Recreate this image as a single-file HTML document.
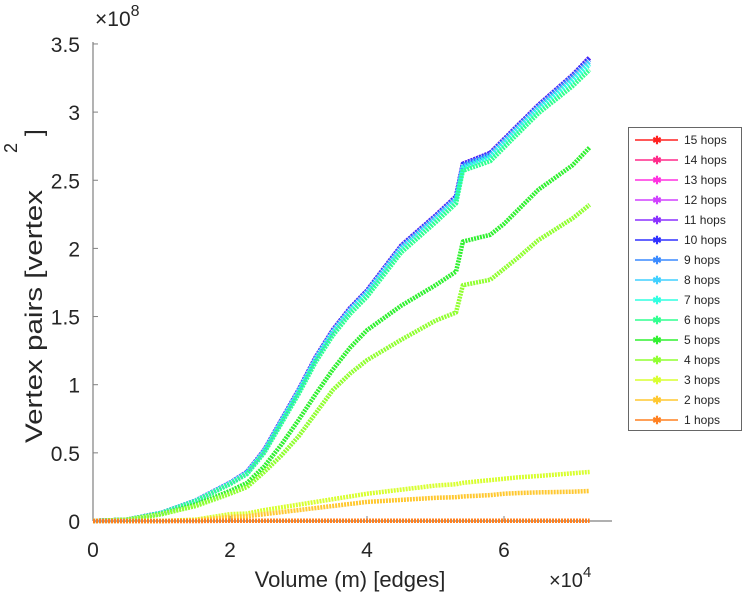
<!DOCTYPE html>
<html><head><meta charset="utf-8"><style>
html,body{margin:0;padding:0;background:#fff;}
svg text{font-family:"Liberation Sans",sans-serif;fill:#262626;}
</style></head><body>
<svg id="chart" width="749" height="600" viewBox="0 0 749 600" xmlns="http://www.w3.org/2000/svg">
<g id="axes"></g>
<g id="series"></g>
<g id="legend"></g>
</svg>
<script>
const xs = [0,0.5,1,1.5,2,2.25,2.5,2.75,3,3.25,3.5,3.75,4,4.5,5,5.3,5.4,5.8,6,6.2,6.5,7,7.25];
const top10 = [0,0.01,0.06,0.15,0.28,0.36,0.52,0.74,0.96,1.2,1.40,1.56,1.69,2.02,2.24,2.38,2.62,2.70,2.80,2.90,3.05,3.27,3.40];
const hop9 = [0,0.01,0.06,0.15,0.28,0.358,0.517,0.736,0.955,1.194,1.393,1.552,1.682,2.01,2.23,2.37,2.61,2.69,2.79,2.89,3.04,3.26,3.38];
const hop8 = [0,0.01,0.06,0.15,0.277,0.355,0.513,0.731,0.95,1.188,1.385,1.544,1.673,2.0,2.22,2.36,2.60,2.68,2.78,2.88,3.03,3.24,3.37];
const hop7 = [0,0.01,0.059,0.148,0.275,0.352,0.51,0.727,0.945,1.182,1.378,1.536,1.664,1.99,2.21,2.35,2.59,2.67,2.77,2.87,3.02,3.23,3.35];
const hop6 = [0,0.01,0.058,0.146,0.27,0.345,0.5,0.715,0.93,1.165,1.36,1.517,1.645,1.97,2.19,2.33,2.57,2.64,2.74,2.84,2.99,3.19,3.31];
const hop5 = [0,0.01,0.05,0.12,0.22,0.28,0.40,0.56,0.74,0.93,1.11,1.27,1.40,1.58,1.73,1.83,2.05,2.10,2.18,2.28,2.43,2.61,2.74];
const hop4 = [0,0.01,0.05,0.11,0.2,0.25,0.36,0.48,0.62,0.79,0.96,1.08,1.18,1.33,1.47,1.53,1.73,1.77,1.85,1.93,2.06,2.22,2.32];
const hop3 = [0,0,0,0.01,0.05,0.055,0.08,0.1,0.12,0.14,0.16,0.18,0.2,0.23,0.26,0.27,0.28,0.30,0.31,0.32,0.33,0.35,0.36];
const hop2 = [0,0,0,0.005,0.03,0.035,0.05,0.065,0.08,0.095,0.11,0.125,0.14,0.155,0.17,0.175,0.18,0.19,0.2,0.205,0.21,0.215,0.22];
const hop1 = [0,0,0,0,0.002,0.002,0.002,0.002,0.002,0.002,0.002,0.002,0.002,0.002,0.002,0.002,0.002,0.002,0.002,0.002,0.002,0.002,0.002];
const xTicks = [0,2,4,6];
const yTicks = [0,0.5,1,1.5,2,2.5,3,3.5];
const labels = ["15 hops","14 hops","13 hops","12 hops","11 hops","10 hops","9 hops","8 hops","7 hops","6 hops","5 hops","4 hops","3 hops","2 hops","1 hops"];

const NS="http://www.w3.org/2000/svg";
const X0=93,XR=612,Y0=521,YT=42;
const sx=v=>93+v*68.5;
const sy=v=>521-v*136.3;
function mk(tag,parent,attrs){const e=document.createElementNS(NS,tag);for(const k in attrs)e.setAttribute(k,attrs[k]);parent.appendChild(e);return e;}
const axes=document.getElementById('axes');
let e=mk('line',axes,{x1:X0,y1:Y0,x2:XR,y2:Y0,stroke:'#808080','stroke-width':1.2});


e=mk('line',axes,{x1:X0,y1:YT,x2:X0,y2:Y0,stroke:'#808080','stroke-width':1.2});


xTicks.forEach(t=>{
  mk('line',axes,{x1:sx(t),y1:Y0,x2:sx(t),y2:Y0-5,stroke:'#808080'});
  const tx=mk('text',axes,{x:sx(t),y:557,'font-size':21,'text-anchor':'middle'});tx.textContent=t;
  
  
});
yTicks.forEach(t=>{
  mk('line',axes,{x1:X0,y1:sy(t),x2:X0+5,y2:sy(t),stroke:'#808080'});
  const tx=mk('text',axes,{x:80,y:sy(t)+8,'font-size':21,'text-anchor':'end'});tx.textContent=t;
  
  
});
let t=mk('text',axes,{x:350,y:587,'font-size':22,'text-anchor':'middle'});t.textContent='Volume (m) [edges]';


t=mk('text',axes,{x:0,y:0,'font-size':24,textLength:253,lengthAdjust:'spacingAndGlyphs',transform:'translate(42,443) rotate(-90)'});t.textContent='Vertex pairs [vertex';


t=mk('text',axes,{x:0,y:0,'font-size':18,transform:'translate(17,153) rotate(-90)'});t.textContent='2';


t=mk('text',axes,{x:0,y:0,'font-size':24,transform:'translate(42,136) rotate(-90)'});t.textContent=']';


t=mk('text',axes,{x:95,y:26,'font-size':21});t.innerHTML='×10<tspan dy="-10" font-size="16">8</tspan>';


t=mk('text',axes,{x:549,y:587,'font-size':20});t.innerHTML='×10<tspan dy="-10" font-size="15">4</tspan>';



const colors=["#ff2020","#ff2a8a","#ff30e0","#d040ff","#8a30ff","#3030ff","#3a8aff","#40d0ff","#30ffe0","#30ff90","#30f030","#90ff30","#d8ff30","#ffc830","#ff8020"];
const dataByHop=[top10,top10,top10,top10,top10,top10,hop9,hop8,hop7,hop6,hop5,hop4,hop3,hop2,hop1];
const ser=document.getElementById('series');
for(let i=0;i<15;i++){
  const d=dataByHop[i];
  const pts=xs.map((x,j)=>sx(x)+','+sy(d[j])).join(' ');
  const p=mk('polyline',ser,{points:pts,fill:'none',stroke:colors[i],'stroke-width':4.5,'stroke-linejoin':'round','stroke-dasharray':'2 1'});
  
  
}
const leg=document.getElementById('legend');
const box=mk('rect',leg,{x:628.5,y:127.5,width:113,height:303,fill:'#fff',stroke:'#666'});


labels.forEach((lab,i)=>{
  const y=140+i*20;
  const g=mk('g',leg,{});
  
  
  mk('line',g,{x1:635,y1:y,x2:678,y2:y,stroke:colors[i],'stroke-width':1.5});
  const m=mk('text',g,{x:657,y:y+4,'font-size':11,'text-anchor':'middle',style:'fill:'+colors[i]+';font-weight:bold'});m.textContent='✱';
  const tt=mk('text',g,{x:684,y:y+4,'font-size':12});tt.textContent=lab;
});
</script>
</body></html>
